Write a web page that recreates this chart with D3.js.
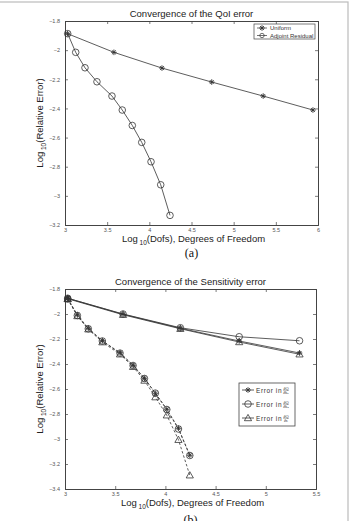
<!DOCTYPE html>
<html>
<head>
<meta charset="utf-8">
<script src="https://cdn.jsdelivr.net/npm/d3@7"></script>
<style>
  body { margin: 0; background: #fff; }
  svg { display: block; }
  text { font-family: "Liberation Sans", Arial, sans-serif; }
</style>
</head>
<body>
<div id="chart-area"></div>
<script>
// panel (a): QoI error
var uniformX = [3.03, 3.58, 4.15, 4.74, 5.35, 5.94];
var uniformY = [-1.887, -2.015, -2.123, -2.219, -2.315, -2.411];
var adjointX = [3.032, 3.127, 3.237, 3.379, 3.557, 3.679, 3.798, 3.910, 4.020, 4.135, 4.245];
var adjointY = [-1.887, -2.015, -2.121, -2.217, -2.315, -2.411, -2.517, -2.633, -2.766, -2.924, -3.134];

// panel (b): sensitivity error
var sensUniX = [3.027, 3.578, 4.149, 4.735, 5.336];
var sensUni1 = [-1.874, -2.002, -2.114, -2.216, -2.312];
var sensUni2 = [-1.874, -2.000, -2.110, -2.182, -2.214];
var sensUni3 = [-1.878, -2.006, -2.118, -2.224, -2.322];
var sensAdX = [3.027, 3.123, 3.232, 3.372, 3.548, 3.678, 3.791, 3.900, 4.014, 4.130, 4.243];
var sensAd1 = [-1.874, -2.008, -2.114, -2.214, -2.310, -2.410, -2.514, -2.634, -2.762, -2.914, -3.130];
var sensAd2 = [-1.880, -2.012, -2.118, -2.216, -2.313, -2.412, -2.516, -2.633, -2.764, -2.920, -3.132];
var sensAd3 = [-1.880, -2.016, -2.122, -2.225, -2.322, -2.422, -2.532, -2.665, -2.810, -3.006, -3.290];

var ticksA_x = [3, 3.5, 4, 4.5, 5, 5.5, 6];
var ticksA_y = [-1.8, -2, -2.2, -2.4, -2.6, -2.8, -3, -3.2];
var ticksB_x = [3, 3.5, 4, 4.5, 5, 5.5];
var ticksB_y = [-1.8, -2, -2.2, -2.4, -2.6, -2.8, -3, -3.2, -3.4];

var legendA = ["Uniform", "Adjoint Residual"];
var legendB = ["\u2202Q/\u2202k\u2081", "\u2202Q/\u2202k\u2082", "\u2202Q/\u2202\u03b5"];

var svg = d3.select("#chart-area").append("svg")
    .attr("width", 359)
    .attr("height", 521);

// light frame around the figure
svg.append("rect")
    .attr("x", -2).attr("y", 2)
    .attr("width", 350).attr("height", 540)
    .attr("fill", "none").attr("stroke", "#bbb").attr("stroke-width", 1.2);

var ink = "#333";

function zip(xs, ys) {
    return xs.map(function(x, i){ return [x, ys[i]]; });
}

function marker(g, kind, x, y) {
    if (kind == "star") {
        var r = 2.8;
        for (var a = 0; a < 180; a += 45) {
            var rad = a * Math.PI / 180;
            g.append("line")
                .attr("x1", x - r * Math.cos(rad)).attr("y1", y - r * Math.sin(rad))
                .attr("x2", x + r * Math.cos(rad)).attr("y2", y + r * Math.sin(rad))
                .attr("stroke", ink).attr("stroke-width", 0.9);
        }
    } else if (kind == "circle") {
        g.append("circle").attr("cx", x).attr("cy", y).attr("r", 3.3)
            .attr("fill", "none").attr("stroke", ink).attr("stroke-width", 0.8);
    } else {
        var s = 3.6;
        g.append("path")
            .attr("d", "M" + x + "," + (y - s) + "L" + (x + s) + "," + (y + s * 0.75) + "L" + (x - s) + "," + (y + s * 0.75) + "Z")
            .attr("fill", "none").attr("stroke", ink).attr("stroke-width", 0.8);
    }
}

function panel(opt) {
    var g = svg.append("g");
    var x = d3.scaleLinear().domain(opt.xd).range([opt.left, opt.right]);
    var y = d3.scaleLinear().domain(opt.yd).range([opt.top, opt.bottom]);

    var fmt = function(d){ return String(d).replace("-", "\u2212"); };

    // axes on all four sides, ticks inward
    g.append("g").attr("transform", "translate(0," + opt.bottom + ")")
        .call(d3.axisBottom(x).tickValues(opt.xt).tickSize(-3).tickPadding(3).tickFormat(fmt));
    g.append("g").attr("transform", "translate(0," + opt.top + ")")
        .call(d3.axisTop(x).tickValues(opt.xt).tickSize(-3).tickFormat(""));
    g.append("g").attr("transform", "translate(" + opt.left + ",0)")
        .call(d3.axisLeft(y).tickValues(opt.yt).tickSize(-3).tickPadding(5).tickFormat(fmt));
    g.append("g").attr("transform", "translate(" + opt.right + ",0)")
        .call(d3.axisRight(y).tickValues(opt.yt).tickSize(-3).tickFormat(""));
    g.selectAll(".domain").attr("stroke", "#444").attr("stroke-width", 1);
    g.selectAll(".tick line").attr("stroke", "#444").attr("stroke-width", 0.7);
    g.selectAll(".tick text").attr("fill", "#555").style("font-size", "5.5px")
        .style("font-family", "'Liberation Sans', Arial, sans-serif");

    var line = d3.line().x(function(d){ return x(d[0]); }).y(function(d){ return y(d[1]); });
    opt.series.forEach(function(s){
        var pts = zip(s.x, s.y);
        g.append("path").datum(pts).attr("d", line)
            .attr("fill", "none").attr("stroke", ink).attr("stroke-width", 0.8)
            .attr("stroke-dasharray", s.dash ? "2.5,2" : null);
        pts.forEach(function(p){ marker(g, s.marker, x(p[0]), y(p[1])); });
    });

    // title
    g.append("text").attr("x", (opt.left + opt.right) / 2).attr("y", opt.top - 4)
        .attr("text-anchor", "middle").attr("fill", "#222").style("font-size", "9.5px")
        .text(opt.title);

    // x label
    var xl = g.append("text").attr("x", (opt.left + opt.right) / 2 + 2).attr("y", opt.bottom + 17)
        .attr("text-anchor", "middle").attr("fill", "#222").style("font-size", "9.5px");
    xl.append("tspan").text("Log");
    xl.append("tspan").attr("dy", 3).style("font-size", "6.5px").text(" 10");
    xl.append("tspan").attr("dy", -3).text("(Dofs), Degrees of Freedom");

    // y label
    var yl = g.append("text")
        .attr("transform", "translate(" + (opt.left - 22) + "," + ((opt.top + opt.bottom) / 2) + ") rotate(-90)")
        .attr("text-anchor", "middle").attr("fill", "#222").style("font-size", "9.5px");
    yl.append("tspan").text("Log");
    yl.append("tspan").attr("dy", 3).style("font-size", "6.5px").text(" 10");
    yl.append("tspan").attr("dy", -3).text("(Relative Error)");

    // caption
    g.append("text").attr("x", (opt.left + opt.right) / 2).attr("y", opt.caption)
        .attr("text-anchor", "middle").attr("fill", "#111")
        .style("font-family", "'Liberation Serif', 'Times New Roman', serif").style("font-size", "12px")
        .text(opt.label);

    return g;
}

var ga = panel({
    xd: [3, 6], yd: [-1.8, -3.2], xt: ticksA_x, yt: ticksA_y,
    left: 65, right: 318, top: 21, bottom: 225,
    title: "Convergence of the QoI error", label: "(a)", caption: 257,
    series: [
        { x: uniformX, y: uniformY, marker: "star" },
        { x: adjointX, y: adjointY, marker: "circle" }
    ]
});

// legend (a)
var la = ga.append("g");
la.append("rect").attr("x", 254).attr("y", 24).attr("width", 61).attr("height", 15)
    .attr("fill", "#fff").attr("stroke", "#444").attr("stroke-width", 0.7);
legendA.forEach(function(name, i){
    var yy = 28 + i * 7.5;
    la.append("line").attr("x1", 257).attr("x2", 267).attr("y1", yy).attr("y2", yy)
        .attr("stroke", ink).attr("stroke-width", 0.7);
    if (i == 0) {
        marker(la, "star", 262, yy);
    } else {
        la.append("circle").attr("cx", 262).attr("cy", yy).attr("r", 2.2)
            .attr("fill", "none").attr("stroke", ink).attr("stroke-width", 0.7);
    }
    la.append("text").attr("x", 270).attr("y", yy + 2).attr("fill", "#333")
        .style("font-size", "6px").text(name);
});

var gb = panel({
    xd: [3, 5.5], yd: [-1.8, -3.4], xt: ticksB_x, yt: ticksB_y,
    left: 65, right: 316, top: 289, bottom: 489,
    title: "Convergence of the Sensitivity error", label: "(b)", caption: 524,
    series: [
        { x: sensUniX, y: sensUni1, marker: "star" },
        { x: sensUniX, y: sensUni2, marker: "circle" },
        { x: sensUniX, y: sensUni3, marker: "tri" },
        { x: sensAdX, y: sensAd1, marker: "star", dash: true },
        { x: sensAdX, y: sensAd2, marker: "circle", dash: true },
        { x: sensAdX, y: sensAd3, marker: "tri", dash: true }
    ]
});

// legend (b)
var lb = gb.append("g");
lb.append("rect").attr("x", 239).attr("y", 383).attr("width", 56).attr("height", 43)
    .attr("fill", "#fff").attr("stroke", "#444").attr("stroke-width", 0.8);
var kinds = ["star", "circle", "tri"];
legendB.forEach(function(name, i){
    var yy = 390 + i * 14;
    lb.append("line").attr("x1", 242).attr("x2", 254).attr("y1", yy).attr("y2", yy)
        .attr("stroke", ink).attr("stroke-width", 0.8);
    marker(lb, kinds[i], 248, yy);
    lb.append("text").attr("x", 256).attr("y", yy + 2.5).attr("fill", "#333")
        .style("font-size", "6.5px").style("letter-spacing", "0.6px").text("Error in");
    var parts = name.split("/");
    lb.append("text").attr("x", 286).attr("y", yy - 0.5).attr("text-anchor", "middle")
        .attr("fill", "#333").style("font-size", "4px").text(parts[0]);
    lb.append("line").attr("x1", 283).attr("x2", 289).attr("y1", yy + 0.3).attr("y2", yy + 0.3)
        .attr("stroke", "#555").attr("stroke-width", 0.4);
    lb.append("text").attr("x", 286).attr("y", yy + 4).attr("text-anchor", "middle")
        .attr("fill", "#333").style("font-size", "4px").text(parts[1]);
});
</script>
</body>
</html>
